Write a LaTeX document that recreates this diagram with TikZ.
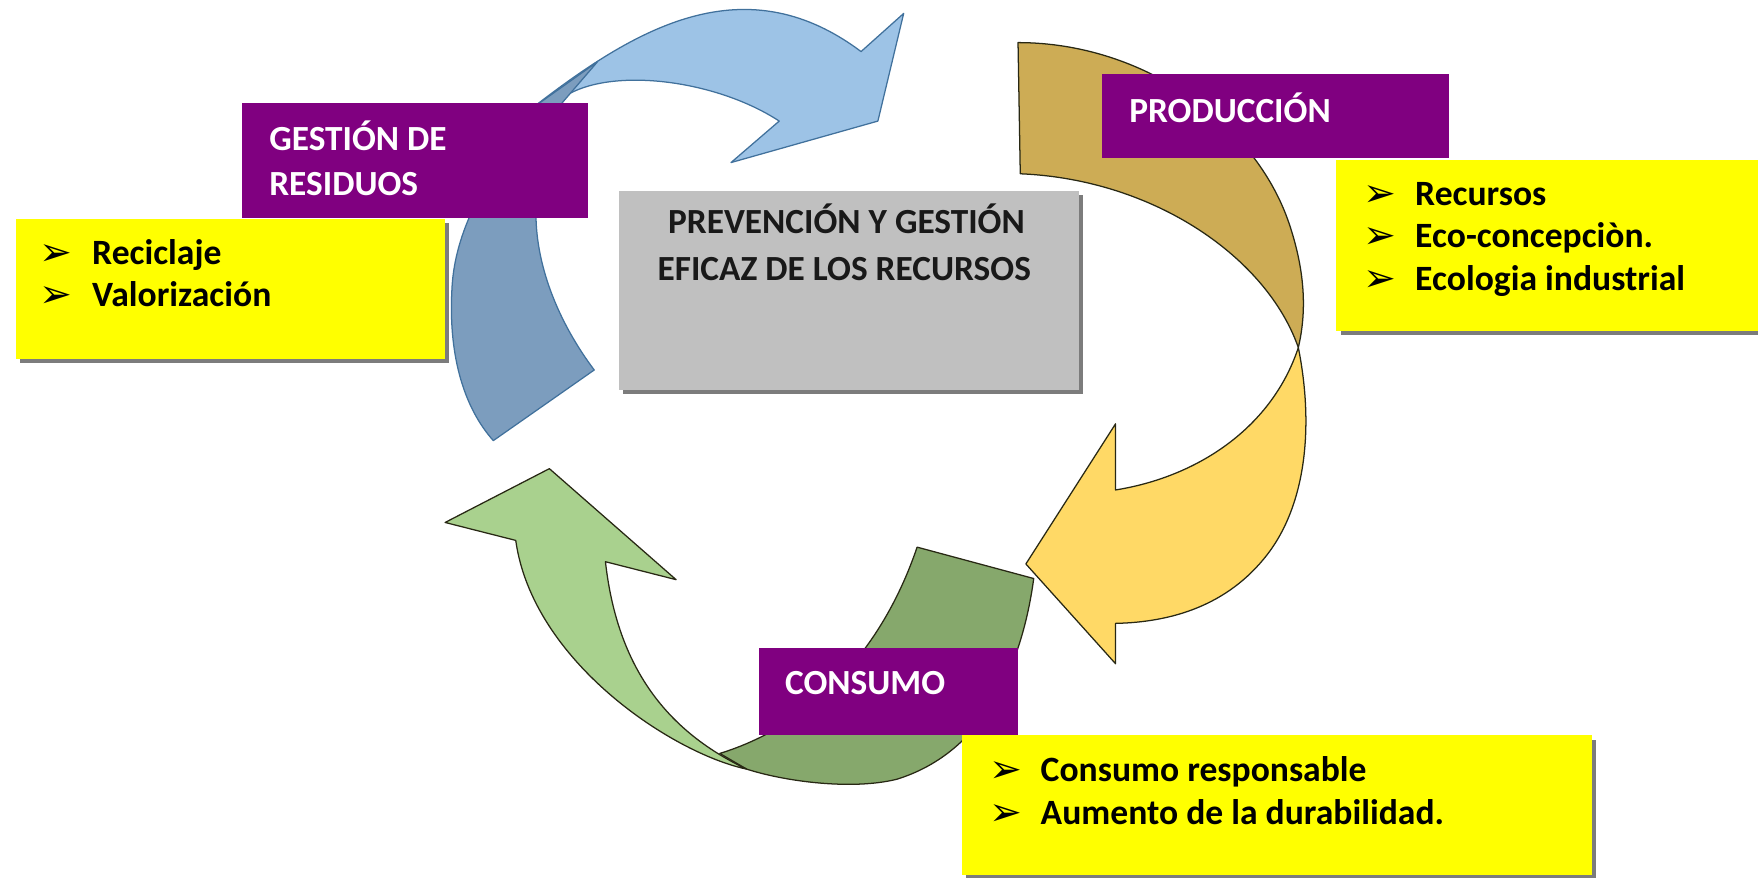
\documentclass[tikz,border=0pt]{standalone}
\usepackage{fontspec}
\setmainfont{Carlito}
\newfontfamily\bulletfont{DejaVu Sans}
\usetikzlibrary{shadows}
\definecolor{purp}{RGB}{128,0,128}
\definecolor{yel}{RGB}{255,255,0}
\definecolor{grayb}{RGB}{192,192,192}
\definecolor{shad}{RGB}{110,110,110}
\definecolor{bluelight}{RGB}{157,195,230}
\definecolor{bluedark}{RGB}{124,157,190}
\definecolor{blueline}{RGB}{65,113,156}
\definecolor{golddark}{RGB}{205,172,85}
\definecolor{goldlight}{RGB}{255,217,102}
\definecolor{greenlight}{RGB}{169,209,142}
\definecolor{greendark}{RGB}{134,168,108}
\definecolor{darkline}{RGB}{40,40,20}
\tikzset{
  arrowpart/.style={line width=0.9pt, line join=round},
  labelbox/.style={fill=purp, draw=none, inner sep=0pt},
  notebox/.style={fill=yel, draw=none, inner sep=0pt, drop shadow={shadow xshift=3pt, shadow yshift=-3pt, fill=shad, opacity=0.9}},
  centerbox/.style={fill=grayb, draw=none, inner sep=0pt, drop shadow={shadow xshift=3pt, shadow yshift=-3pt, fill=shad, opacity=0.9}},
  labeltext/.style={text=white, font=\fontsize{25.2}{28}\selectfont\bfseries, anchor=base west, inner sep=0pt},
  centertext/.style={text=black!90, font=\fontsize{25.2}{28}\selectfont\bfseries, anchor=base, inner sep=0pt},
  notetext/.style={text=black, font=\fontsize{25.4}{28}\selectfont\bfseries, anchor=base west, inner sep=0pt},
  bullet/.style={text=black, font=\bulletfont\fontsize{28}{30}\selectfont, anchor=base west, inner sep=0pt},
}
\begin{document}
\begin{tikzpicture}[x=0.8pt,y=-0.8pt]
\useasboundingbox (0,0) rectangle (1568,783);
% blue arrow: front (light) part, then back (dark) part with its twist
\path[fill=bluelight, draw=blueline, arrowpart] (470,100)
  .. controls (560,30) and (660,-35) .. (768,46) -- (806,12) -- (783,108) -- (652,145) -- (695,108)
  .. controls (640,72) and (550,60) .. (507,84) -- (495,100) -- cycle;
\path[fill=bluedark, draw=blueline, arrowpart] (440,393) -- (530,330)
  .. controls (500,290) and (478,240) .. (478,190)
  .. controls (480,140) and (488,108) .. (502,91) -- (533,55) -- (481,92)
  .. controls (440,150) and (405,200) .. (403,260)
  .. controls (400,320) and (415,365) .. (440,393) -- cycle;
% gold arrow
\path[fill=golddark, draw=darkline, arrowpart] (908,38)
  .. controls (1020,38) and (1120,110) .. (1150,200)
  .. controls (1165,245) and (1165,280) .. (1158,310)
  .. controls (1130,230) and (1030,160) .. (910,155) -- cycle;
\path[fill=goldlight, draw=darkline, arrowpart] (1158,310)
  .. controls (1172,380) and (1165,450) .. (1130,495)
  .. controls (1095,540) and (1045,555) .. (995,556)
  -- (995,592) -- (915,503) -- (995,378) -- (995,437)
  .. controls (1070,425) and (1135,380) .. (1158,310) -- cycle;
% green arrow
\path[fill=greendark, draw=darkline, arrowpart] (818,488) -- (922,516)
  .. controls (912,590) and (880,670) .. (800,695)
  .. controls (760,705) and (700,697) .. (666,686) -- (642,672)
  .. controls (720,648) and (785,585) .. (818,488) -- cycle;
\path[fill=greenlight, draw=darkline, arrowpart] (666,686)
  .. controls (600,672) and (475,590) .. (460,482) -- (397,466) -- (490,418) -- (603,517) -- (540,501)
  .. controls (550,590) and (590,650) .. (666,686) -- cycle;
% boxes
\node[labelbox, minimum width=246.4pt, minimum height=81.6pt] (gest) at (370,143) {};
\node[notebox, minimum width=306.4pt, minimum height=100pt] (yelL) at (205.5,257.5) {};
\node[centerbox, minimum width=328pt, minimum height=142.4pt] (center) at (757,259) {};
\node[labelbox, minimum width=247.2pt, minimum height=60pt] (prod) at (1137.5,103.5) {};
\node[notebox, minimum width=304pt, minimum height=121.6pt] (yelR) at (1382,219) {};
\node[labelbox, minimum width=184.8pt, minimum height=62.4pt] (cons) at (792.5,617) {};
\node[notebox, minimum width=449.6pt, minimum height=99.2pt] (yelB) at (1139,718) {};
% texts
\node[labeltext] (g1) at (240,134) {GESTIÓN DE};
\node[labeltext] (g2) at (240,174) {RESIDUOS};
\node[bullet] (bl1) at (35,237) {➢};
\node[notetext] (l1) at (82,236) {Reciclaje};
\node[bullet] (bl2) at (35,274) {➢};
\node[notetext] (l2) at (82,273) {Valorización};
\node[centertext] (c1) at (755,208) {PREVENCIÓN Y GESTIÓN};
\node[centertext] (c2) at (753,250) {EFICAZ DE LOS RECURSOS};
\node[labeltext] (p1) at (1007,109) {PRODUCCIÓN};
\node[bullet] (br1) at (1216,184) {➢};
\node[notetext] (r1) at (1262,183) {Recursos};
\node[bullet] (br2) at (1216,222) {➢};
\node[notetext] (r2) at (1262,221) {Eco-concepciòn.};
\node[bullet] (br3) at (1216,260) {➢};
\node[notetext] (r3) at (1262,259) {Ecologia industrial};
\node[labeltext] (k1) at (700,619) {CONSUMO};
\node[bullet] (bb1) at (882,698) {➢};
\node[notetext] (b1) at (928,697) {Consumo responsable};
\node[bullet] (bb2) at (882,736) {➢};
\node[notetext] (b2) at (928,735) {Aumento de la durabilidad.};
\end{tikzpicture}
\end{document}
